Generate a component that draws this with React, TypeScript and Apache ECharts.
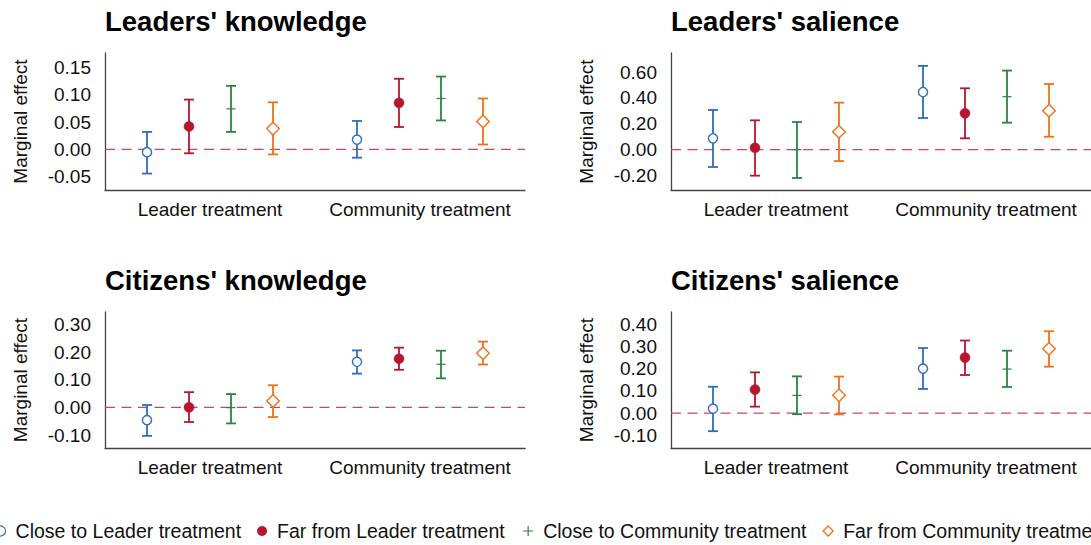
import React, { useEffect, useRef } from "react";
import * as echarts from "echarts";

const FONT = "'Liberation Sans', Arial, Helvetica, sans-serif";

const categories = ["Leader treatment", "Community treatment"];
const groups = [
  "Close to Leader treatment",
  "Far from Leader treatment",
  "Close to Community treatment",
  "Far from Community treatment",
];
const groupColors = ["#2f6fb8", "#b5172f", "#2a8541", "#ee7219"];
const panelTitles = ["Leaders' knowledge", "Leaders' salience", "Citizens' knowledge", "Citizens' salience"];

// Each row: one group; values for [Leader treatment, Community treatment]
// Leaders' knowledge
const lkEst = [[-0.005, 0.018], [0.042, 0.085], [0.074, 0.093], [0.038, 0.051]];
const lkLo = [[-0.044, -0.015], [-0.007, 0.041], [0.032, 0.053], [-0.009, 0.009]];
const lkHi = [[0.032, 0.052], [0.091, 0.129], [0.116, 0.133], [0.086, 0.093]];
const lkTicks = [-0.05, 0, 0.05, 0.1, 0.15];

// Leaders' salience
const lsEst = [[0.088, 0.446], [0.015, 0.281], [0.0, 0.41], [0.139, 0.302]];
const lsLo = [[-0.134, 0.245], [-0.201, 0.088], [-0.219, 0.209], [-0.088, 0.1]];
const lsHi = [[0.307, 0.648], [0.227, 0.475], [0.214, 0.612], [0.364, 0.508]];
const lsTicks = [-0.2, 0, 0.2, 0.4, 0.6];

// Citizens' knowledge
const ckEst = [[-0.046, 0.165], [0.0, 0.176], [-0.001, 0.156], [0.023, 0.196]];
const ckLo = [[-0.103, 0.122], [-0.053, 0.136], [-0.058, 0.105], [-0.035, 0.155]];
const ckHi = [[0.0085, 0.206], [0.055, 0.216], [0.048, 0.205], [0.08, 0.238]];
const ckTicks = [-0.1, 0, 0.1, 0.2, 0.3];

// Citizens' salience
const csEst = [[0.02, 0.201], [0.106, 0.251], [0.08, 0.199], [0.08, 0.291]];
const csLo = [[-0.082, 0.109], [0.029, 0.172], [-0.005, 0.118], [-0.006, 0.21]];
const csHi = [[0.119, 0.294], [0.184, 0.328], [0.166, 0.282], [0.165, 0.37]];
const csTicks = [-0.1, 0, 0.1, 0.2, 0.3, 0.4];

const zeroLine = [0];

const panelData = [
  { est: lkEst, lo: lkLo, hi: lkHi, ticks: lkTicks, min: -0.074, max: 0.176 },
  { est: lsEst, lo: lsLo, hi: lsHi, ticks: lsTicks, min: -0.312, max: 0.748 },
  { est: ckEst, lo: ckLo, hi: ckHi, ticks: ckTicks, min: -0.147, max: 0.345 },
  { est: csEst, lo: csLo, hi: csHi, ticks: csTicks, min: -0.158, max: 0.457 },
];

const gridLayout = [
  { left: 105, top: 53, width: 420, height: 137 },
  { left: 671, top: 53, width: 420, height: 137 },
  { left: 105, top: 312, width: 420, height: 136 },
  { left: 671, top: 312, width: 420, height: 136 },
];

const offsets = [-0.3, -0.1, 0.1, 0.3];

function makeRenderItem(g: number) {
  return (params: any, api: any) => {
    const ci = api.value(0);
    const est = api.value(1);
    const lo = api.value(2);
    const hi = api.value(3);
    const band = api.size([1, 0])[0];
    const pe = api.coord([ci, est]);
    const pl = api.coord([ci, lo]);
    const ph = api.coord([ci, hi]);
    const x = pe[0] + offsets[g] * band;
    const color = groupColors[g];
    const lw = 1.8;
    const cap = 5;
    const children: any[] = [
      { type: "line", shape: { x1: x, y1: pl[1], x2: x, y2: ph[1] }, style: { stroke: color, lineWidth: lw } },
      { type: "line", shape: { x1: x - cap, y1: pl[1], x2: x + cap, y2: pl[1] }, style: { stroke: color, lineWidth: lw } },
      { type: "line", shape: { x1: x - cap, y1: ph[1], x2: x + cap, y2: ph[1] }, style: { stroke: color, lineWidth: lw } },
    ];
    const y = pe[1];
    if (g === 0) {
      children.push({ type: "circle", shape: { cx: x, cy: y, r: 4.6 }, style: { fill: "#fff", stroke: color, lineWidth: 1.4 } });
    } else if (g === 1) {
      children.push({ type: "circle", shape: { cx: x, cy: y, r: 5 }, style: { fill: color, stroke: color, lineWidth: 0.5 } });
    } else if (g === 2) {
      children.push({ type: "line", shape: { x1: x - 4.5, y1: y, x2: x + 4.5, y2: y }, style: { stroke: color, lineWidth: 1.2 } });
    } else {
      const d = 6.3;
      children.push({
        type: "polygon",
        shape: { points: [[x, y - d], [x + d, y], [x, y + d], [x - d, y]] },
        style: { fill: "#fff", stroke: color, lineWidth: 1.4 },
      });
    }
    return { type: "group", children };
  };
}

function zeroRenderItem(params: any, api: any) {
  const cs = params.coordSys;
  const p = api.coord([0, api.value(0)]);
  return {
    type: "line",
    shape: { x1: cs.x, y1: p[1], x2: cs.x + cs.width, y2: p[1] },
    style: { stroke: "#c8475a", lineWidth: 1.3, lineDash: [10, 6.5] },
  };
}

function buildOption() {
  const titles = panelTitles.map((t, i) => ({
    text: t,
    left: gridLayout[i].left,
    top: gridLayout[i].top - 46,
    padding: 0,
    textStyle: { fontFamily: FONT, fontSize: 27.5, fontWeight: "bold", color: "#000" },
  }));

  const xAxes = panelData.map((_, i) => ({
    type: "category",
    gridIndex: i,
    data: categories,
    axisLine: { show: true, onZero: false, lineStyle: { color: "#444", width: 1.3 } },
    axisTick: { show: false },
    axisLabel: { interval: 0, hideOverlap: false, fontFamily: FONT, fontSize: 19, color: "#111", margin: 10 },
    splitLine: { show: false },
  }));

  const yAxes = panelData.map((p, i) => ({
    type: "value",
    gridIndex: i,
    min: p.min,
    max: p.max,
    name: "Marginal effect",
    nameLocation: "middle",
    nameGap: 75,
    nameTextStyle: { fontFamily: FONT, fontSize: 19, color: "#111" },
    axisLine: { show: true, onZero: false, lineStyle: { color: "#444", width: 1.3 } },
    axisTick: { show: false },
    splitLine: { show: false },
    axisLabel: {
      customValues: p.ticks,
      formatter: (v: number) => v.toFixed(2),
      fontFamily: FONT,
      fontSize: 19,
      color: "#111",
      margin: 14,
    },
  }));

  const series: any[] = [];
  panelData.forEach((p, gi) => {
    series.push({
      type: "custom",
      name: "zero",
      xAxisIndex: gi,
      yAxisIndex: gi,
      data: zeroLine.map((v) => [v]),
      encode: { y: 0 },
      renderItem: zeroRenderItem,
      z: 1,
      silent: true,
      clip: false,
    });
    groups.forEach((name, s) => {
      const data = categories.map((_, ci) => [ci, p.est[s][ci], p.lo[s][ci], p.hi[s][ci]]);
      series.push({
        type: "custom",
        name,
        xAxisIndex: gi,
        yAxisIndex: gi,
        data,
        encode: { x: 0, y: [1, 2, 3] },
        renderItem: makeRenderItem(s),
        clip: false,
        z: 3,
        silent: true,
      });
    });
  });

  const legendIcons = ["circle", "circle", "path://M5,0L5,10M0,5L10,5", "path://M5,0L10,5L5,10L0,5Z"];
  const legendStyles = [
    { color: "#fff", borderColor: groupColors[0], borderWidth: 1.2 },
    { color: groupColors[1], borderColor: groupColors[1], borderWidth: 0 },
    { color: "none", borderColor: groupColors[2], borderWidth: 1.2 },
    { color: "#fff", borderColor: groupColors[3], borderWidth: 1.3 },
  ];

  return {
    animation: false,
    backgroundColor: "#fff",
    title: titles,
    grid: gridLayout.map((g) => ({ ...g, containLabel: false })),
    xAxis: xAxes,
    yAxis: yAxes,
    legend: {
      left: -5,
      top: 521,
      width: 1500,
      orient: "horizontal",
      padding: 0,
      itemWidth: 20,
      itemHeight: 10,
      itemGap: 16,
      symbolKeepAspect: true,
      selectedMode: false,
      textStyle: { fontFamily: FONT, fontSize: 19.5, color: "#111" },
      data: groups.map((n, i) => ({ name: n, icon: legendIcons[i], itemStyle: legendStyles[i] })),
    },
    series,
  };
}

export default function App() {
  const ref = useRef<HTMLDivElement>(null);
  useEffect(() => {
    document.body.style.margin = "0";
    const chart = echarts.init(ref.current as HTMLDivElement, null, { renderer: "svg", width: 1091, height: 545 });
    chart.setOption(buildOption() as any);
    return () => chart.dispose();
  }, []);
  return <div ref={ref} style={{ width: 1091, height: 545 }} />;
}
